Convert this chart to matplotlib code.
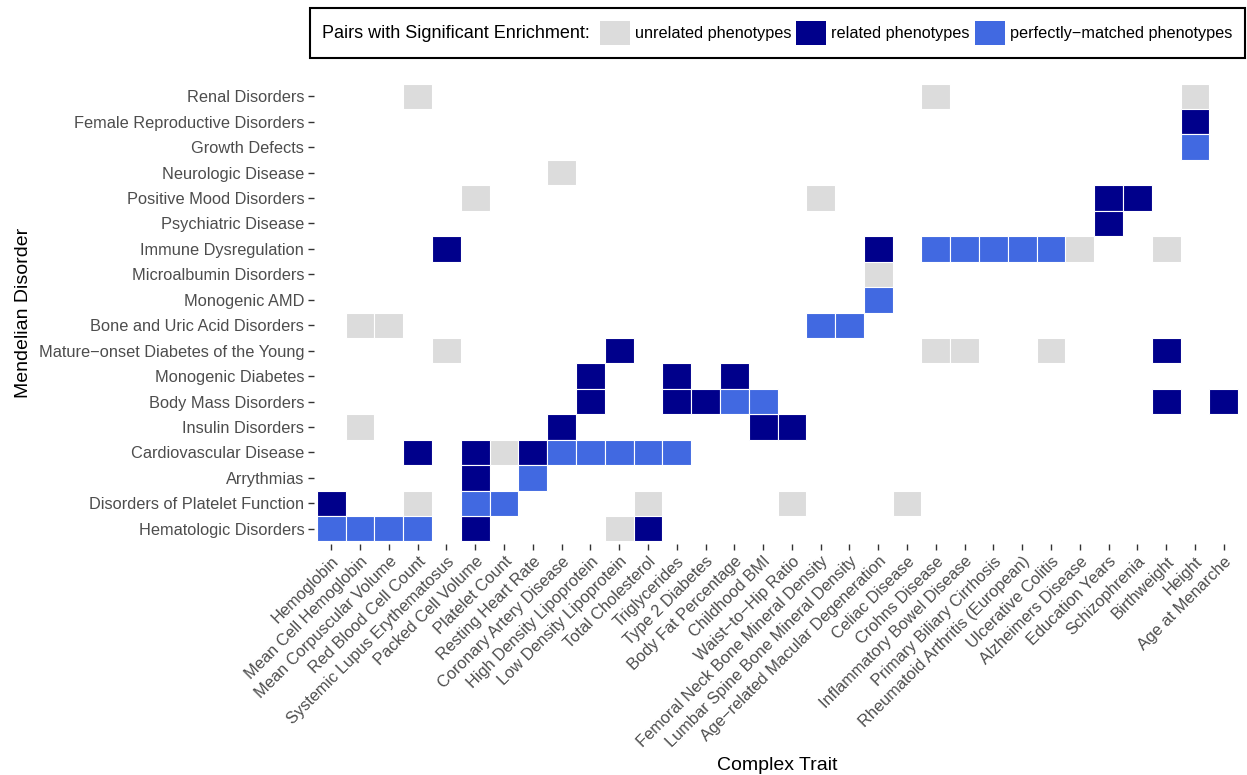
import matplotlib.pyplot as plt
from matplotlib.patches import Patch, Rectangle

plt.rcParams['font.family'] = ['Liberation Sans', 'DejaVu Sans']

# complex traits (x axis, left to right)
traits = [
    "Hemoglobin", "Mean Cell Hemoglobin", "Mean Corpuscular Volume",
    "Red Blood Cell Count", "Systemic Lupus Erythematosus", "Packed Cell Volume",
    "Platelet Count", "Resting Heart Rate", "Coronary Artery Disease",
    "High Density Lipoprotein", "Low Density Lipoprotein", "Total Cholesterol",
    "Triglycerides", "Type 2 Diabetes", "Body Fat Percentage", "Childhood BMI",
    "Waist\u2212to\u2212Hip Ratio", "Femoral Neck Bone Mineral Density",
    "Lumbar Spine Bone Mineral Density", "Age\u2212related Macular Degeneration",
    "Celiac Disease", "Crohns Disease", "Inflammatory Bowel Disease",
    "Primary Biliary Cirrhosis", "Rheumatoid Arthritis (European)",
    "Ulcerative Colitis", "Alzheimers Disease", "Education Years",
    "Schizophrenia", "Birthweight", "Height", "Age at Menarche",
]

# mendelian disorders (y axis, top to bottom)
disorders = [
    "Renal Disorders", "Female Reproductive Disorders", "Growth Defects",
    "Neurologic Disease", "Positive Mood Disorders", "Psychiatric Disease",
    "Immune Dysregulation", "Microalbumin Disorders", "Monogenic AMD",
    "Bone and Uric Acid Disorders", "Mature\u2212onset Diabetes of the Young",
    "Monogenic Diabetes", "Body Mass Disorders", "Insulin Disorders",
    "Cardiovascular Disease", "Arrythmias", "Disorders of Platelet Function",
    "Hematologic Disorders",
]

# significant pairs: (disorder index, trait index)
unrelated = [
    (0, 3), (0, 21), (0, 30),
    (3, 8),
    (4, 5), (4, 17),
    (6, 26), (6, 29),
    (7, 19),
    (9, 1), (9, 2),
    (10, 4), (10, 21), (10, 22), (10, 25),
    (13, 1),
    (14, 6),
    (16, 3), (16, 11), (16, 16), (16, 20),
    (17, 10),
]
related = [
    (1, 30),
    (4, 27), (4, 28),
    (5, 27),
    (6, 4), (6, 19),
    (10, 10), (10, 29),
    (11, 9), (11, 12), (11, 14),
    (12, 9), (12, 12), (12, 13), (12, 29), (12, 31),
    (13, 8), (13, 15), (13, 16),
    (14, 3), (14, 5), (14, 7),
    (15, 5),
    (16, 0),
    (17, 5), (17, 11),
]
matched = [
    (2, 30),
    (6, 21), (6, 22), (6, 23), (6, 24), (6, 25),
    (8, 19),
    (9, 17), (9, 18),
    (12, 14), (12, 15),
    (14, 8), (14, 9), (14, 10), (14, 11), (14, 12),
    (15, 7),
    (16, 5), (16, 6),
    (17, 0), (17, 1), (17, 2), (17, 3),
]

groups = [
    ("unrelated phenotypes", unrelated, "#DCDCDC"),
    ("related phenotypes", related, "#00008B"),
    ("perfectly\u2212matched phenotypes", matched, "#4169E1"),
]

W, H = 1247, 775
fig = plt.figure(figsize=(W / 100, H / 100), dpi=100)
ax = fig.add_axes([314 / W, 1 - 544 / H, (1241 - 314) / W, (544 - 81) / H])

for name, pairs, color in groups:
    ys = [p[0] for p in pairs]
    xs = [p[1] for p in pairs]
    ax.bar(xs, [1] * len(xs), bottom=[y - 0.5 for y in ys], width=1,
           color=color, edgecolor="white", linewidth=0.8)

ax.set_xlim(-0.6, len(traits) - 0.4)
ax.set_ylim(len(disorders) - 0.4, -0.6)
ax.set_xticks(range(len(traits)))
ax.set_xticklabels(traits, rotation=45, ha="right", rotation_mode="anchor")
ax.set_yticks(range(len(disorders)))
ax.set_yticklabels(disorders)
ax.tick_params(labelsize=11.8, labelcolor="#4D4D4D", color="#333333",
               length=4, width=1, pad=3)
for s in ax.spines.values():
    s.set_visible(False)
ax.set_xlabel("Complex Trait", fontsize=14, labelpad=5)
ax.set_ylabel("Mendelian Disorder", fontsize=14, labelpad=5)

# legend box at the top
fig.patches.append(Rectangle((310 / W, 1 - 58 / H), (1245 - 310) / W, 50 / H,
                             transform=fig.transFigure, fill=False,
                             edgecolor="black", linewidth=1.5))
fig.text(322 / W, 1 - 34 / H, "Pairs with Significant Enrichment:",
         fontsize=13, va="center", ha="left")
handles = [Patch(facecolor=c, edgecolor="none", label=n) for n, _, c in groups]
fig.legend(handles=handles, loc="center left", bbox_to_anchor=(600 / W, 1 - 33 / H),
           ncol=3, frameon=False, fontsize=11.7, handlelength=1.85,
           handleheight=1.85, handletextpad=0.3, columnspacing=0.3,
           borderpad=0, borderaxespad=0)

fig.savefig("out.png", dpi=100)
